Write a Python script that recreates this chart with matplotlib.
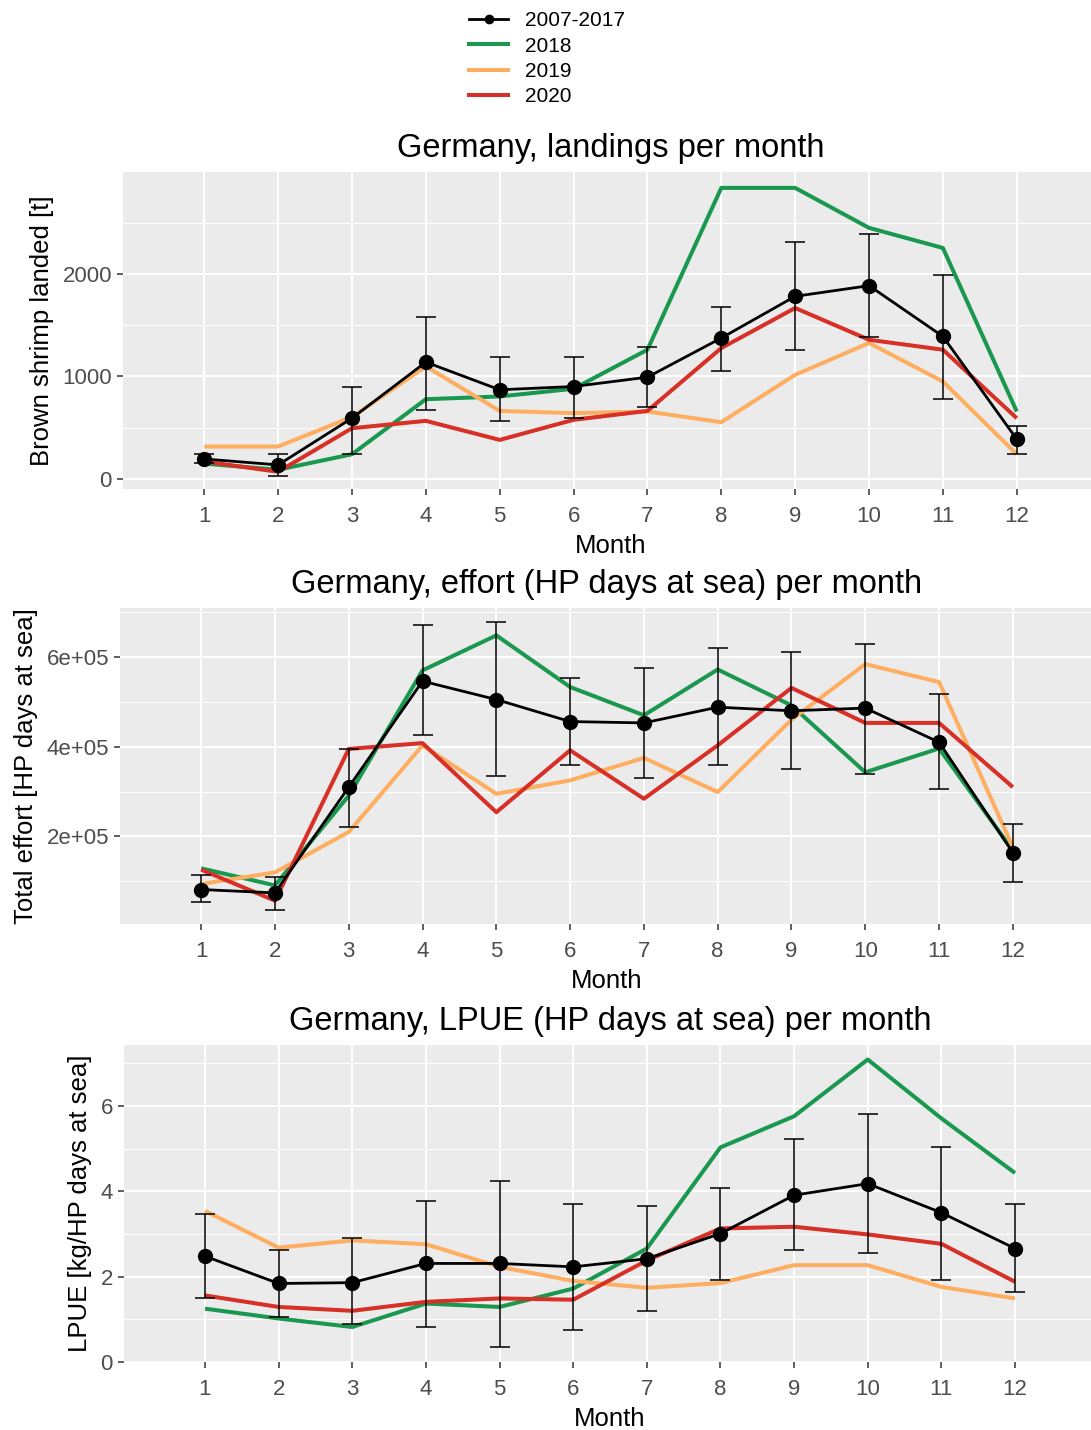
#!/usr/bin/env python3
"""Germany brown shrimp: landings, effort and LPUE per month."""

import matplotlib

matplotlib.use("Agg")
import matplotlib.pyplot as plt
from matplotlib.lines import Line2D
from matplotlib.ticker import FixedLocator

plt.rcParams["font.family"] = ["Liberation Sans", "DejaVu Sans"]

MONTHS = list(range(1, 13))

# landings [t]
LAND_MEAN = [195, 137, 593, 1140, 870, 902, 993, 1375, 1782, 1886, 1391, 388]
LAND_LO = [155, 33, 241, 674, 567, 599, 703, 1049, 1261, 1388, 779, 241]
LAND_HI = [240, 241, 902, 1583, 1192, 1192, 1283, 1674, 2316, 2391, 1993, 521]
LAND_2018 = [150, 90, 241, 778, 805, 880, 1261, 2840, 2840, 2450, 2254, 658]
LAND_2019 = [316, 316, 605, 1098, 664, 642, 658, 554, 1016, 1326, 951, 241]
LAND_2020 = [170, 70, 495, 567, 381, 577, 664, 1277, 1668, 1358, 1261, 593]

# effort [HP days at sea]
EFF_MEAN = [81.8e3, 74.3e3, 310e3, 546e3, 505e3, 456e3, 453e3, 488e3, 480e3, 486e3, 410e3, 164e3]
EFF_LO = [53.5e3, 37e3, 221e3, 425e3, 335e3, 360e3, 330e3, 360e3, 351e3, 340e3, 306e3, 98e3]
EFF_HI = [114.5e3, 109e3, 394e3, 672e3, 677e3, 554e3, 575e3, 620e3, 611e3, 628e3, 517e3, 228e3]
EFF_2018 = [129e3, 91e3, 291e3, 570e3, 648e3, 533e3, 470e3, 572e3, 492e3, 343e3, 396e3, 169e3]
EFF_2019 = [94e3, 120e3, 210e3, 403e3, 295e3, 325e3, 375e3, 299e3, 460e3, 584e3, 544e3, 176e3]
EFF_2020 = [126e3, 57e3, 395e3, 408e3, 254e3, 392e3, 284e3, 403e3, 531e3, 453e3, 453e3, 310e3]

# LPUE [kg/HP days at sea]
LPUE_MEAN = [2.48, 1.84, 1.86, 2.31, 2.31, 2.23, 2.42, 3.01, 3.91, 4.18, 3.50, 2.66]
LPUE_LO = [1.50, 1.06, 0.88, 0.81, 0.34, 0.76, 1.20, 1.92, 2.62, 2.56, 1.93, 1.63]
LPUE_HI = [3.48, 2.62, 2.91, 3.77, 4.24, 3.71, 3.65, 4.07, 5.22, 5.82, 5.04, 3.71]
LPUE_2018 = [1.25, 1.02, 0.82, 1.37, 1.29, 1.72, 2.66, 5.03, 5.76, 7.09, 5.71, 4.43]
LPUE_2019 = [3.54, 2.68, 2.85, 2.76, 2.23, 1.90, 1.74, 1.85, 2.27, 2.27, 1.76, 1.49]
LPUE_2020 = [1.56, 1.29, 1.20, 1.41, 1.49, 1.46, 2.38, 3.13, 3.17, 2.99, 2.77, 1.88]

YEARS = ["2018", "2019", "2020"]
COLORS = ["#1A9850", "#FDAE61", "#D73027"]

PANELS = [
    dict(title="Germany, landings per month", ylabel="Brown shrimp landed [t]",
         mean=LAND_MEAN, lo=LAND_LO, hi=LAND_HI, years=[LAND_2018, LAND_2019, LAND_2020],
         yticks=[0, 1000, 2000], ylabels=["0", "1000", "2000"],
         yminor=[500, 1500, 2500], ylim=(-98, 2995),
         pos=[123 / 1091, 1 - 489 / 1430, 975 / 1091, 317 / 1430]),
    dict(title="Germany, effort (HP days at sea) per month",
         ylabel="Total effort [HP days at sea]",
         mean=EFF_MEAN, lo=EFF_LO, hi=EFF_HI, years=[EFF_2018, EFF_2019, EFF_2020],
         yticks=[2e5, 4e5, 6e5], ylabels=["2e+05", "4e+05", "6e+05"],
         yminor=[1e5, 3e5, 5e5, 7e5], ylim=(5e3, 709e3),
         pos=[120 / 1091, 1 - 924 / 1430, 974 / 1091, 316 / 1430]),
    dict(title="Germany, LPUE (HP days at sea) per month",
         ylabel="LPUE [kg/HP days at sea]",
         mean=LPUE_MEAN, lo=LPUE_LO, hi=LPUE_HI, years=[LPUE_2018, LPUE_2019, LPUE_2020],
         yticks=[0, 2, 4, 6], ylabels=["0", "2", "4", "6"],
         yminor=[1, 3, 5, 7], ylim=(0.0, 7.43),
         pos=[124 / 1091, 1 - 1362 / 1430, 972 / 1091, 317 / 1430]),
]

fig = plt.figure(figsize=(10.91, 14.30), dpi=100, facecolor="white")

for p in PANELS:
    ax = fig.add_axes(p["pos"])
    ax.set_facecolor("#EBEBEB")
    for vals, col in zip(p["years"], COLORS):
        ax.plot(MONTHS, vals, color=col, lw=2.9, zorder=3, solid_capstyle="butt")
    yerr = [[m - lo for m, lo in zip(p["mean"], p["lo"])],
            [hi - m for m, hi in zip(p["mean"], p["hi"])]]
    ax.errorbar(MONTHS, p["mean"], yerr=yerr, fmt="none", ecolor="black",
                elinewidth=1.1, capsize=7, capthick=1.1, zorder=4)
    ax.plot(MONTHS, p["mean"], color="black", lw=2.0, marker="o", ms=10, zorder=5)

    ax.set_xlim(-0.1, 13.1)
    ax.set_ylim(*p["ylim"])
    ax.set_xticks(MONTHS)
    ax.set_yticks(p["yticks"])
    ax.set_yticklabels(p["ylabels"])
    ax.yaxis.set_minor_locator(FixedLocator(p["yminor"]))
    ax.grid(which="major", color="white", lw=1.4)
    ax.grid(which="minor", axis="y", color="white", lw=0.7)
    ax.set_axisbelow(True)
    for s in ax.spines.values():
        s.set_visible(False)
    ax.tick_params(which="major", length=4, width=1.1, color="#333333",
                   labelcolor="#4D4D4D", labelsize=16, pad=4)
    ax.tick_params(axis="x", pad=8)
    ax.tick_params(which="minor", length=0)
    ax.set_title(p["title"], fontsize=23.5, pad=11)
    ax.set_xlabel("Month", fontsize=18.5, labelpad=5)
    ax.set_ylabel(p["ylabel"], fontsize=18.5, labelpad=6)

handles = [
    Line2D([], [], color="black", lw=2.0, marker="o", ms=6),
    *[Line2D([], [], color=c, lw=2.9) for c in COLORS],
]
fig.legend(handles, ["2007-2017"] + YEARS, loc="upper center",
           bbox_to_anchor=(547 / 1091, 1.0), frameon=False, fontsize=15,
           handlelength=1.9, labelspacing=0.3, handletextpad=0.8,
           borderaxespad=0.15)

fig.savefig("out.png", dpi=100, facecolor="white")
